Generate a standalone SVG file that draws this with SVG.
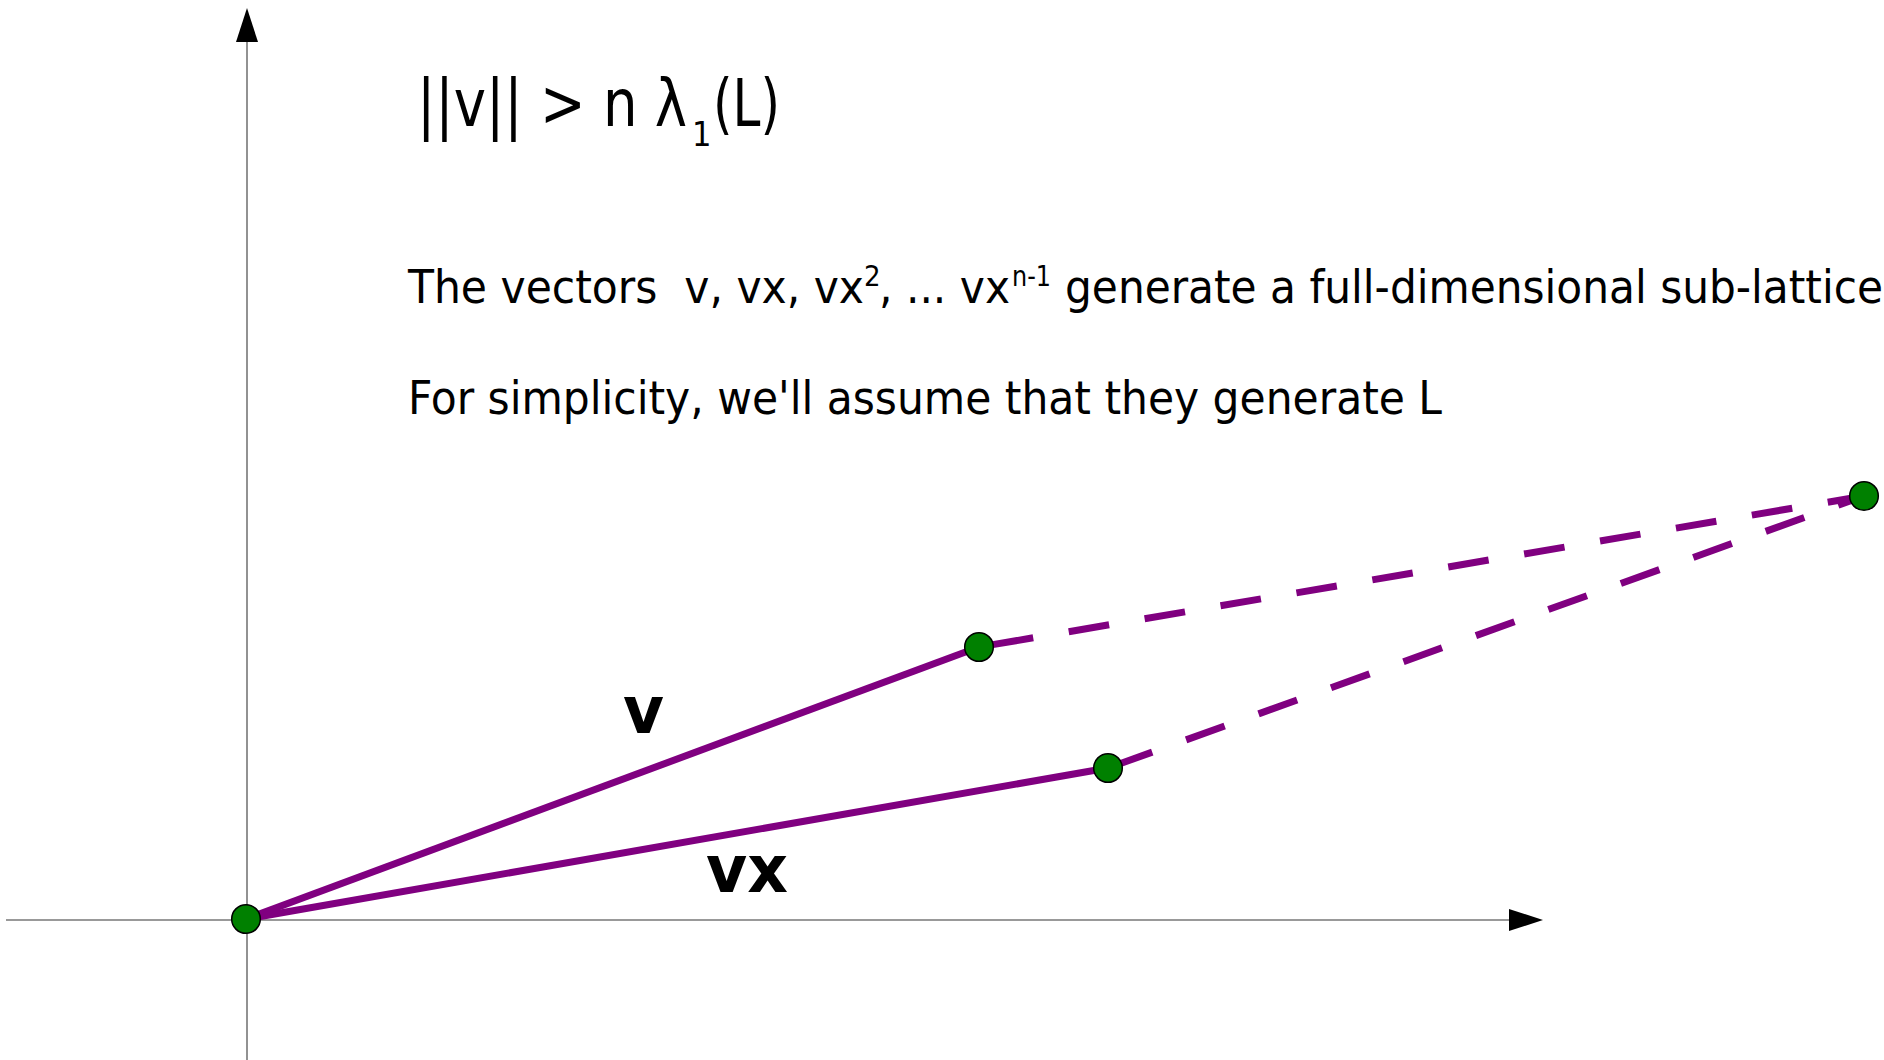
<svg xmlns="http://www.w3.org/2000/svg" width="1884" height="1060" viewBox="0 0 1884 1060">
  <style>
    .axis { stroke: #777777; stroke-width: 1.6; fill: none; }
    .arrow { fill: #000000; stroke: none; }
    .vec { stroke: #800080; stroke-width: 7; fill: none; }
    .dash { stroke: #800080; stroke-width: 7; fill: none; stroke-dasharray: 41 36; }
    .pt { fill: #008000; stroke: #000000; stroke-width: 1.5; }
    .txt { font-family: "DejaVu Sans Condensed", "DejaVu Sans", sans-serif; fill: #000000; white-space: pre; }
    .lbl { font-family: "DejaVu Sans", sans-serif; font-weight: bold; font-size: 66px; fill: #000000; }
  </style>
  <rect width="1884" height="1060" fill="#ffffff"/>
  <g id="axes">
    <line class="axis" x1="6" y1="920" x2="1512" y2="920"/>
    <polygon class="arrow" points="1509,909 1543,920 1509,931"/>
    <line class="axis" x1="247" y1="1060" x2="247" y2="38"/>
    <polygon class="arrow" points="236,42 247,8 258,42"/>
  </g>
  <g id="connectors">
    <line class="vec" x1="246" y1="919" x2="979" y2="647"/>
    <line class="vec" x1="246" y1="919" x2="1108" y2="768"/>
    <line class="dash" x1="979" y1="647" x2="1864" y2="496" stroke-dashoffset="63"/>
    <line class="dash" x1="1108" y1="768" x2="1864" y2="496" stroke-dashoffset="71"/>
  </g>
  <g id="node-origin"><circle class="pt" cx="246" cy="919" r="14.3"/></g>
  <g id="node-v"><circle class="pt" cx="979" cy="647" r="14.3"/></g>
  <g id="node-vx"><circle class="pt" cx="1108" cy="768" r="14.3"/></g>
  <g id="node-far"><circle class="pt" cx="1864" cy="496" r="14.3"/></g>
  <g id="title">
    <text class="txt" x="417" y="126" font-size="66" textLength="270" lengthAdjust="spacingAndGlyphs">||v|| &gt; n λ</text>
    <text class="txt" x="692" y="146" font-size="34">1</text>
    <text class="txt" x="713" y="126" font-size="66" textLength="67" lengthAdjust="spacingAndGlyphs">(L)</text>
  </g>
  <g id="text-lines">
    <text class="txt" x="408" y="303" font-size="47" textLength="456" lengthAdjust="spacingAndGlyphs">The vectors  v, vx, vx</text>
    <text class="txt" x="864" y="286" font-size="29">2</text>
    <text class="txt" x="879" y="303" font-size="47" textLength="131" lengthAdjust="spacingAndGlyphs">, ... vx</text>
    <text class="txt" x="1012" y="286" font-size="29" textLength="39" lengthAdjust="spacingAndGlyphs">n-1</text>
    <text class="txt" x="1065" y="303" font-size="47" textLength="818" lengthAdjust="spacingAndGlyphs">generate a full-dimensional sub-lattice</text>
    <text class="txt" x="408" y="414" font-size="47" textLength="1034" lengthAdjust="spacingAndGlyphs">For simplicity, we'll assume that they generate L</text>
  </g>
  <g id="labels">
    <text class="lbl" x="623" y="733" textLength="41" lengthAdjust="spacingAndGlyphs">v</text>
    <text class="lbl" x="706" y="892" textLength="82" lengthAdjust="spacingAndGlyphs">vx</text>
  </g>
</svg>
